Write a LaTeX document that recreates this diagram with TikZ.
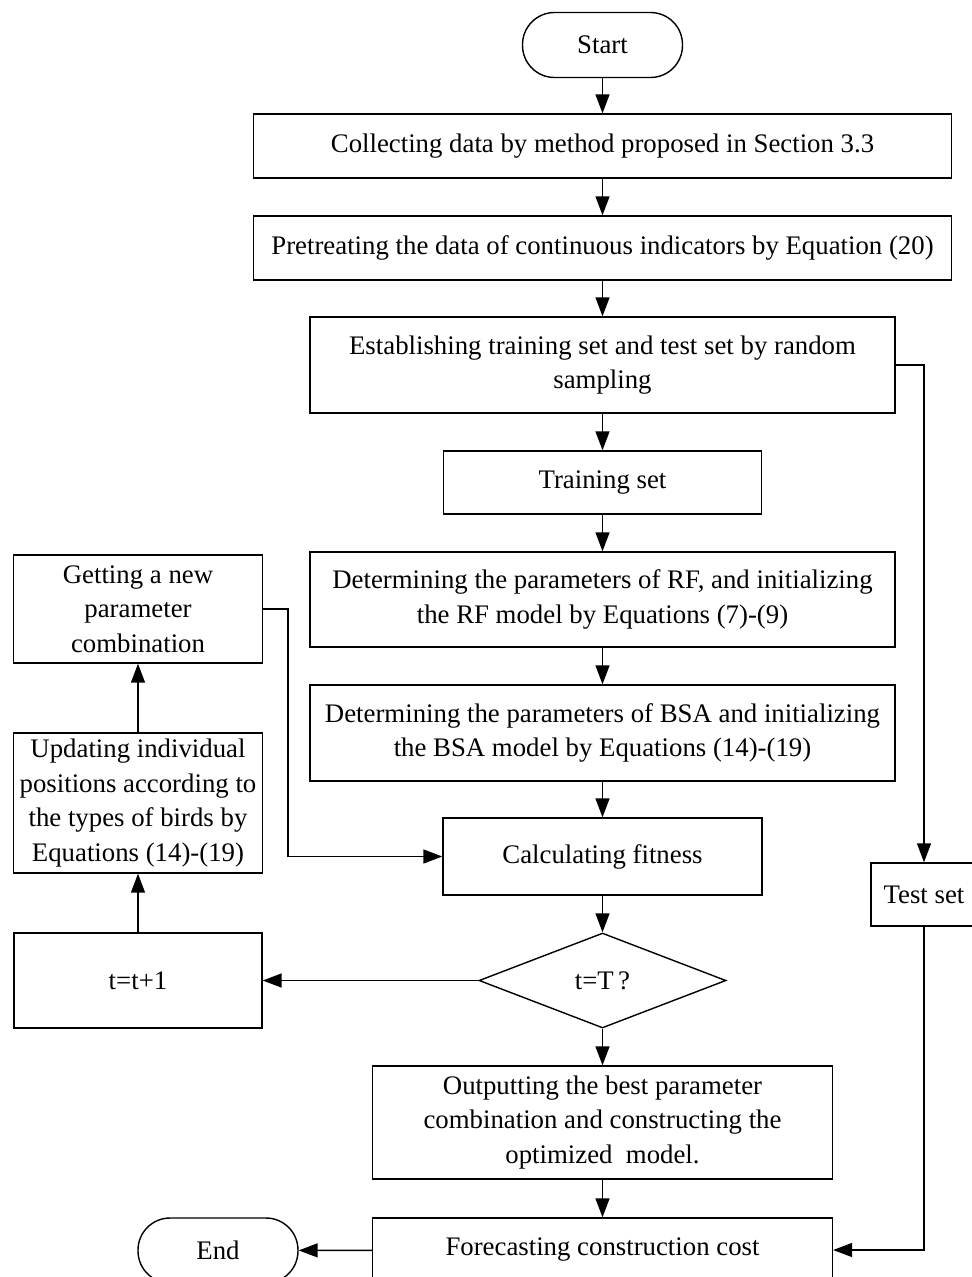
\documentclass[tikz,border=0pt]{standalone}
\usepackage{fontspec}
\setmainfont{Liberation Serif}
\usetikzlibrary{arrows.meta, shapes.geometric}

\tikzset{
    procbox/.style={draw, line width=0.8pt, rectangle, align=center, inner sep=2pt},
    terminal/.style={draw, line width=0.8pt, rectangle, rounded corners=0.64cm,
                     minimum width=3.2cm, minimum height=1.3cm},
    decision/.style={draw, line width=0.8pt, diamond, aspect=2.6, inner sep=0pt,
                     minimum width=4.94cm, minimum height=1.9cm},
    flow/.style={line width=0.8pt, -{Triangle[length=0.38cm, width=0.28cm]}}
}

\begin{document}
\begin{tikzpicture}[x=0.02cm, y=-0.02cm, font=\fontsize{15.25}{19.6}\selectfont]
                    \useasboundingbox (0,0) rectangle (972,1277);
                    \clip (0,0) rectangle (972,1277);
                    \node[terminal] (start) at (602.5, 45) {Start};
                    \node[procbox, minimum width=13.96cm, minimum height=1.28cm] (collect) at (602.5, 146)
                        {Collecting data by method proposed in Section 3.3};
                    \node[procbox, minimum width=13.96cm, minimum height=1.28cm] (pretreat) at (602.5, 248)
                        {Pretreating the data of continuous indicators by Equation (20)};
                    \node[procbox, minimum width=11.7cm, minimum height=1.92cm] (split) at (602.5, 365)
                        {Establishing training set and test set by random\\sampling};
                    \node[procbox, minimum width=6.36cm, minimum height=1.26cm] (train) at (602.5, 482.5)
                        {Training set};
                    \node[procbox, minimum width=11.7cm, minimum height=1.9cm] (initrf) at (602.5, 599.5)
                        {Determining the parameters of RF, and initializing\\the RF model by Equations (7)-(9)};
                    \node[procbox, minimum width=11.7cm, minimum height=1.92cm] (initbsa) at (602.5, 733)
                        {Determining the parameters of BSA and initializing\\the BSA model by Equations (14)-(19)};
                    \node[procbox, minimum width=6.38cm, minimum height=1.54cm] (fitness) at (602.5, 856.5)
                        {Calculating fitness};
                    \node[decision] (check) at (602.5, 980.5) {t=T\,?};
                    \node[procbox, minimum width=9.2cm, minimum height=2.26cm] (output) at (602.5, 1122.5)
                        {Outputting the best parameter\\combination and constructing the\\optimized\ \ model.};
                    \node[procbox, minimum width=9.2cm, minimum height=1.28cm] (forecast) at (602.5, 1250)
                        {Forecasting construction cost};
                    \node[terminal] (finish) at (218, 1250.5) {End};
                    \node[procbox, minimum width=4.98cm, minimum height=2.16cm] (newcomb) at (138, 609)
                        {Getting a new\\parameter\\combination};
                    \node[procbox, minimum width=4.98cm, minimum height=2.8cm] (update) at (138, 803)
                        {Updating individual\\positions according to\\the types of birds by\\Equations (14)-(19)};
                    \node[procbox, minimum width=4.96cm, minimum height=1.9cm] (incr) at (138, 980.5) {t=t+1};
                    \node[procbox, minimum width=2.12cm, minimum height=1.26cm] (testset) at (924, 894.5) {Test set};
                    \draw[flow] (start) -- (collect);
                    \draw[flow] (collect) -- (pretreat);
                    \draw[flow] (pretreat) -- (split);
                    \draw[flow] (split) -- (train);
                    \draw[flow] (train) -- (initrf);
                    \draw[flow] (initrf) -- (initbsa);
                    \draw[flow] (initbsa) -- (fitness);
                    \draw[flow] (fitness) -- (check);
                    \draw[flow] (check) -- (output);
                    \draw[flow] (output) -- (forecast);
                    \draw[flow] (forecast) -- (finish);
                    \draw[flow] (check) -- (incr);
                    \draw[flow] (incr) -- (update);
                    \draw[flow] (update) -- (newcomb);
                    \draw[flow] (newcomb.east) -- ++(25, 0) |- (fitness.west);
                    \draw[flow] (split.east) -| (testset.north);
                    \draw[flow] (testset.south) |- (forecast.east);
                \end{tikzpicture}
\end{document}
